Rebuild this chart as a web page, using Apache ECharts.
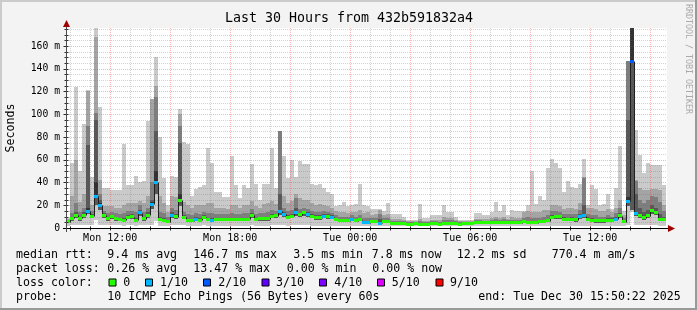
<!DOCTYPE html>
<html><head><meta charset="utf-8">
<script src="https://cdn.jsdelivr.net/npm/echarts@6/dist/echarts.min.js"></script>
<style>html,body{margin:0;padding:0;background:#f3f3f3}#c{width:697px;height:310px}</style>
</head><body><div id="c"></div><script>
// ---- data (ms), one value per 12-minute RRD step, first step starts Mon 09:48 ----
const median = [5.6,8.5,11.4,8.5,11.4,14.9,10.5,28.1,20,11.4,
 8.5,9.7,8.5,7.9,7,9.4,10,7,13.2,8.2,
 11.4,20.8,40,7.6,7,5.6,11.4,10,24.6,9.4,
 6.4,6.4,7.9,7,9.4,7.6,7,7.6,7.6,7.6,
 7.9,7.9,7.6,7.6,7.9,7.9,11.4,7.6,8.2,8.2,
 8.2,10.5,10.8,14.7,12,9.4,10.3,13.2,11.7,13.2,
 12,10.5,9,9,10.5,10,9.4,7.6,6.2,6.2,
 6.2,7.3,6.2,7.3,4.7,4.4,5.3,5.3,4.1,5.9,
 5.6,4.3,4.3,4.3,4.3,3.5,3.5,4.3,3.5,3.5,
 3.5,4.3,4.3,3.5,4.3,4.3,4.3,4.3,3.5,4.3,
 4.3,4.3,4.8,4.8,4.8,4.8,5,5,4.8,4.8,
 5,5.2,5.2,4.5,5.6,5,5,4.7,5.9,5.9,
 6.4,9.4,9.7,9.7,7.9,7.6,7.9,7.3,10.3,10.8,
 7.9,6.7,6.2,6.2,6.2,6.7,6.7,7.9,10.8,5.6,
 23.5,146.7,12.6,11.4,9.1,10.8,15,13.2,7.9,7.8];
// lost pings out of 10 per step
const lossTenths = [0,0,0,0,0,1,0,1,1,0, 0,0,0,0,0,0,0,0,1,0, 0,1,1,0,0,0,1,0,0,0,
 0,0,1,0,0,0,1,0,0,0, 0,0,0,0,0,0,0,0,0,0, 0,0,0,1,1,0,0,1,0,0,
 1,0,0,0,1,0,1,0,0,0, 0,1,0,0,1,1,0,0,1,0, 0,0,0,0,0,0,0,0,0,0,
 0,0,0,0,0,0,0,0,0,0, 0,0,0,0,0,0,0,0,0,0, 0,0,0,0,0,0,0,0,0,0,
 0,0,0,0,0,0,0,0,1,1, 0,0,0,0,0,0,0,1,0,0, 1,2,1,0,0,0,0,0,0,0];
const ping1 = [2,2.5,3,2.5,3,3,3,7,3,3, 2.5,2.5,2.5,2.5,2,2.5,2.5,2,3,2.5,
 3,3,6,2,2,1.5,3,2.5,3,2.5, 2,2,2,2,2.5,2,2,2,2,2,
 2,2,2,2,2,2,2.5,2,2,2, 2,2.5,2.5,3,2.5,2,2.5,2.5,2.5,2.5,
 2.5,2,2,2,2,2,2,2,2,2, 2,2,2,2,1.5,1.5,1.5,1.5,1.5,1.5,
 1.5,1.5,1.5,1.5,1.5,1.5,1.5,1.5,1.5,1.5, 1.5,1.5,1.5,1.5,1.5,1.5,1.5,1.5,1.5,1.5,
 1.5,1.5,1.5,1.5,1.5,1.5,1.5,1.5,1.5,1.5, 1.5,1.5,1.5,1.5,1.5,1.5,1.5,1.5,1.5,1.5,
 2,2,2,2,2,2,2,2,2,2, 2,2,2,2,2,2,2,2,2,2,
 3,14,3,3,2.5,3,3,3,2,2];
const ping3 = [4,6.5,9,6.5,9,12.5,8.5,20,16,9,
 6.5,7.5,6.5,6,5.5,7.5,8,5.5,10.5,6.5,
 9,17,30,6,5.5,4.5,9,8,19,7.5,
 5,5,6,5.5,7.5,6,5.5,6,6,6,
 6,6,6,6,6,6,9,6,6.5,6.5,
 6.5,8.5,8.5,11.5,9.5,7.5,8.5,10.5,9.5,10.5,
 9.5,8.5,7,7,8.5,8,7.5,6,5,5,
 5,5.8,5,5.8,3.7,3.5,4.2,4.2,3.2,4.6,
 4.4,3.3,3.3,3.3,3.3,2.8,2.8,3.3,2.8,2.8,
 2.8,3.3,3.3,2.8,3.3,3.3,3.3,3.3,2.8,3.3,
 3.3,3.3,3.7,3.7,3.7,3.7,3.9,3.9,3.7,3.7,
 3.9,4.1,4.1,3.5,4.4,3.9,3.9,3.7,4.6,4.6,
 5,7.5,7.8,7.8,6.2,6,6.2,5.7,8.3,8.8,
 6.2,5.2,4.8,4.8,4.8,5.2,5.2,6.2,8.8,4.3,
 19,16,10.2,9.2,7.2,8.8,12.5,11,6.2,6];
const ping6 = [6,9.5,12.5,9.5,12.5,18,11.5,40,22,12.5,
 9.5,10.5,9.5,9,8,10.5,11,8,14.5,9,
 12.5,23,50,8.5,8,6.5,12.5,11,30,10.5,
 7.5,7.5,9,8,10.5,8.5,8,8.5,8.5,8.5,
 9,9,8.5,8.5,9,9,12.5,8.5,9,9,
 9,11.5,12,16,13,10.5,11.5,15,12.5,14,
 13,11.5,10,10,11.5,11,10.5,8.5,7,7,
 7,8,7,8,5.5,5,6,6,5,6.5,
 6.5,4.8,4.8,4.8,4.8,4,4,4.8,4,4,
 4,4.8,4.8,4,4.8,4.8,4.8,4.8,4,4.8,
 4.8,4.8,5.3,5.3,5.3,5.3,5.5,5.5,5.3,5.3,
 5.5,5.8,5.8,5,6.2,5.5,5.5,5.2,6.5,6.5,
 7,10.5,11,11,9,8.5,9,8.5,11.5,12.5,
 9,7.5,7,7,7,7.5,7.5,9,12,6.5,
 27,180,14,12.5,10,12,16.5,14.5,9,9];
const ping7 = [6.5,10,14,10,14,73,12,95,25,13,
 10,11,10,9,9,11,12,9,16,10,
 14,25,85,10,9,7,14,12,75,11,
 8,8,10,9,11,9,9,9,9,9,
 9,9,9,9,9,9,13,9,10,10,
 10,12,12,30,14,11,12,18,13,14,
 14,12,11,11,12,12,11,9,8,8,
 8,9,8,9,6.5,6,7,7,8,7,
 7,5,5,5,5,4.2,4.2,5,4.2,4.2,
 4.2,5,5,4.2,5,5,5,5,4.2,5,
 5,5,5.5,5.5,5.5,5.5,6,6,5.5,5.5,
 6,6,6,5.5,7,6.5,6.5,6,7,7,
 8,11,11,11,9.5,9,9.5,9,12,20,
 9.5,8.5,8,8,8,8.5,8.5,10,13,7,
 95,180,30,18,14,16,20,18,12,10];
const ping8 = [7,13,22,14,18,90,15,101,30,15,
 13,14,13,12,13,15,15,14,20,14,
 18,40,115,14,13,10,18,16,90,14,
 12,11,13,12,14,13,13,12,12,12,
 12,13,12,12,13,13,17,12,13,13,
 14,16,15,85,18,15,16,26,17,18,
 17,15,14,14,15,14,13,11,10,10,
 10,11,10,11,9,9,9,9,12,9,
 9,6,6,6,6,5,5,5,6,5,
 5,6,6,5,7,7,7,6,5,5,
 5,5,7,7,6,6,7,8,7,8,
 7,7,7,7,9,10,9,9,9,10,
 11,15,15,14,12,12,12,12,16,44,
 12,11,11,10,10,11,10,13,18,9,
 147,180,41,25,22,25,28,27,23,15];
const ping9 = [8,28,60,23,30,120,20,168,42,19,
 19,19,18,18,20,22,22,22,24,22,
 28,113,125,28,22,14,28,27,100,23,
 20,18,20,20,20,22,22,18,18,18,
 17,20,20,18,20,20,24,19,18,21,
 22,24,21,85,28,22,24,30,26,25,
 25,22,20,21,20,19,18,15,14,14,
 13,14,14,16,13,14,11,12,16,11,
 12,8,8,8,7,6,6,6,8,6,
 6,7,7,7,10,9,9,7,6,6,
 6,6,8,8,8,8,9,10,9,10,
 8,10,9,9,14,15,14,14,14,16,
 16,20,20,19,17,18,18,17,22,45,
 18,18,17,15,15,17,14,18,25,11,
 147,180,42,35,33,33,34,34,33,20];
const ping10 = [9,57,124,50,91,121,45,176,106,35,
 35,33,33,33,74,38,38,46,40,41,
 94,113,150,80,44,20,46,45,105,76,
 74,28,34,36,38,70,57,32,32,27,
 27,63,38,26,38,35,56,39,25,39,
 39,70,35,85,63,44,60,45,59,56,
 56,39,38,39,35,32,30,19,20,23,
 19,20,21,39,20,19,17,17,17,15,
 22,12,12,12,10,7,7,7,21,8.5,
 8.5,11,11,11,20,14,14,10,7,7,
 7,7,13,13,11,11,14,23,15,20,
 11,16,15,15,15,20,50,21,28,25,
 53,61,57,53,32,41,36,35,39,61,
 20,38,34,20,21,30,17,35,72,15,
 147,180,86,64,48,57,55,55,55,38];

// time axis in hours counted from Mon 00:00
const firstBarHour = 9.8;          // Mon 09:48
const barHours = 0.2;              // 12 min
const xMin = 9 + 50/60 + 22/3600;  // Mon 09:50:22
const xMax = xMin + 30;
const yMax = 175.8;
const xLabelHours = [12, 18, 24, 30, 36];
const xLabelText = ['Mon 12:00', 'Mon 18:00', 'Tue 00:00', 'Tue 06:00', 'Tue 12:00'];
const lossLevels = [0, 1, 2, 3, 4, 5, 9];
const lossNames = ['0', '1/10', '2/10', '3/10', '4/10', '5/10', '9/10'];
const lossColors = ['#26ff00', '#00b8ff', '#0059ff', '#5e00ff', '#7e00ff', '#dd00ff', '#ff0000'];
const smokeColors = ['#cacaca', '#a4a4a4', '#7e7e7e', '#585858', '#323232'];

const MONO = '"DejaVu Sans Mono", monospace';
const seriesData = median.map((m, k) => [firstBarHour + k * barHours, m, k]);

function lossColor(n) {
  let c = lossColors[0];
  for (let i = 0; i < lossLevels.length; i++) if (n >= lossLevels[i]) c = lossColors[i];
  return c;
}

function renderSmoke(params, api) {
  const k = api.value(2);
  const t = api.value(0);
  const xa = Math.round(api.coord([t, 0])[0]);
  const xb = Math.round(api.coord([t + barHours, 0])[0]);
  const Y = v => Math.round(api.coord([t, v])[1]);
  const w = xb - xa;
  const rect = (lo, hi, color) => ({ type: 'rect', shape: { x: xa, y: Y(hi), width: w, height: Y(lo) - Y(hi) }, style: { fill: color } });
  return { type: 'group', children: [
    rect(ping1[k], ping10[k], smokeColors[0]),
    rect(ping3[k], ping9[k], smokeColors[1]),
    rect(ping3[k], ping8[k], smokeColors[2]),
    rect(ping3[k], ping7[k], smokeColors[3]),
    rect(median[k], ping6[k], smokeColors[4])
  ] };
}

function renderMedianLine(params, api) {
  const k = api.value(2);
  const t = api.value(0);
  const xa = Math.round(api.coord([t, 0])[0]);
  const xb = Math.round(api.coord([t + barHours, 0])[0]);
  const y0 = Math.round(api.coord([t, median[k]])[1]) + 0.5;
  const ch = [{ type: 'line', shape: { x1: xa, y1: y0, x2: xb, y2: y0 }, style: { stroke: '#202020', lineWidth: 1 } }];
  if (k + 1 < median.length) {
    const y1 = Math.round(api.coord([t, median[k + 1]])[1]) + 0.5;
    ch.push({ type: 'line', shape: { x1: xb + 0.5, y1: y0, x2: xb + 0.5, y2: y1 }, style: { stroke: '#202020', lineWidth: 1 } });
  }
  return { type: 'group', children: ch };
}

function renderBand(params, api) {
  const k = api.value(2);
  const t = api.value(0);
  const xa = Math.round(api.coord([t, 0])[0]);
  const xb = Math.round(api.coord([t + barHours, 0])[0]);
  const yc = api.coord([t, median[k]])[1];
  return { type: 'rect', shape: { x: xa, y: Math.round(yc - 1.5), width: xb - xa, height: 3 }, style: { fill: lossColor(lossTenths[k]) } };
}

function renderGrid(params, api) {
  if (params.dataIndex !== 0) return null;
  const cs = params.coordSys;
  const ch = [];
  const GRID = 'rgba(110,110,110,0.3)', MGRID = 'rgba(240,60,60,0.38)';
  for (let v = 5; v < yMax; v += 5) {
    const y = Math.round(api.coord([xMin, v])[1]) + 0.5;
    ch.push({ type: 'line', shape: { x1: cs.x, y1: y, x2: cs.x + cs.width, y2: y }, style: { stroke: v % 20 === 0 ? MGRID : GRID, lineWidth: 1, lineDash: [1, 1] } });
  }
  for (let h = Math.ceil(xMin); h < xMax; h++) {
    const x = Math.round(api.coord([h, 0])[0]) + 0.5;
    ch.push({ type: 'line', shape: { x1: x, y1: cs.y, x2: x, y2: cs.y + cs.height }, style: { stroke: h % 3 === 0 ? MGRID : GRID, lineWidth: 1, lineDash: [1, 1] } });
  }
  return { type: 'group', children: ch };
}

function renderAxes(params, api) {
  if (params.dataIndex !== 0) return null;
  const cs = params.coordSys;
  const ch = [];
  const yb = cs.y + cs.height + 0.5;
  const xl = cs.x - 0.5;
  // x axis ticks and labels
  for (let h = Math.ceil(xMin); h < xMax; h++) {
    const x = Math.round(api.coord([h, 0])[0]) + 0.5;
    ch.push({ type: 'line', shape: { x1: x, y1: yb - 2, x2: x, y2: yb + 2 }, style: { stroke: '#2c2c2c', lineWidth: 1 } });
  }
  xLabelHours.forEach((h, i) => {
    const x = api.coord([h, 0])[0];
    ch.push({ type: 'text', x: x, y: cs.y + cs.height + 10, style: { text: xLabelText[i], font: '10px ' + MONO, fill: '#000', align: 'center', verticalAlign: 'middle' } });
  });
  // y axis ticks
  for (let v = 0; v < yMax; v += 5) {
    const y = Math.round(api.coord([xMin, v])[1]) + 0.5;
    const len = v % 20 === 0 ? 3 : 2;
    ch.push({ type: 'line', shape: { x1: xl - len, y1: y, x2: xl + 2, y2: y }, style: { stroke: '#2c2c2c', lineWidth: 1 } });
  }
  // axis lines with arrows
  ch.push({ type: 'line', shape: { x1: cs.x - 4, y1: yb, x2: cs.x + cs.width + 2, y2: yb }, style: { stroke: '#000', lineWidth: 1 } });
  ch.push({ type: 'line', shape: { x1: xl, y1: cs.y + cs.height + 4, x2: xl, y2: cs.y - 2 }, style: { stroke: '#4a4a4a', lineWidth: 1 } });
  const ax = cs.x + cs.width + 1, ay = cs.y + cs.height + 0.5;
  ch.push({ type: 'polygon', shape: { points: [[ax, ay - 3.5], [ax + 7, ay], [ax, ay + 3.5]] }, style: { fill: '#a00000' } });
  ch.push({ type: 'polygon', shape: { points: [[xl - 3.5, cs.y - 1], [xl, cs.y - 8], [xl + 3.5, cs.y - 1]] }, style: { fill: '#a00000' } });
  return { type: 'group', children: ch };
}

const legendY = [254.5, 268.5, 282.5, 296.5];
const legendRows = [
  [[16, 'median rtt:'], [107.3, '9.4 ms avg'], [193.3, '146.7 ms max'], [293.3, '3.5 ms min'], [371.7, '7.8 ms now'], [456.7, '12.2 ms sd'], [551.7, '770.4 m am/s']],
  [[16, 'packet loss:'], [107.3, '0.26 % avg'], [193.3, '13.47 % max'], [286.7, '0.00 % min'], [372.3, '0.00 % now']],
  [[16, 'loss color:']],
  [[16, 'probe:'], [107.3, '10 ICMP Echo Pings (56 Bytes) every 60s'], [478.3, 'end: Tue Dec 30 15:50:22 2025']]
];
const boxX = [109, 145.5, 203.5, 262, 319.5, 377.5, 436];
const boxTextX = [123.3, 160, 218.3, 276, 334.3, 391.7, 450];

const graphics = [
  { type: 'rect', shape: { x: 0, y: 0, width: 697, height: 2 }, style: { fill: '#cbcbcb' }, z: 100 },
  { type: 'rect', shape: { x: 0, y: 0, width: 2, height: 310 }, style: { fill: '#cbcbcb' }, z: 100 },
  { type: 'rect', shape: { x: 0, y: 308, width: 697, height: 2 }, style: { fill: '#999999' }, z: 100 },
  { type: 'rect', shape: { x: 695, y: 0, width: 2, height: 310 }, style: { fill: '#999999' }, z: 100 },
  { type: 'text', x: 349, y: 18.5, style: { text: 'Last 30 Hours from 432b591832a4', font: '13.3px ' + MONO, fill: '#000', align: 'center', verticalAlign: 'middle' } },
  { type: 'text', x: 11, y: 128, rotation: Math.PI / 2, style: { text: 'Seconds', font: '11.6px ' + MONO, fill: '#000', align: 'center', verticalAlign: 'middle' } },
  { type: 'text', x: 688, y: 59, rotation: -Math.PI / 2, style: { text: 'RRDTOOL / TOBI OETIKER', font: '8.3px ' + MONO, fill: '#aaaaaa', align: 'center', verticalAlign: 'middle' } }
];
legendRows.forEach((row, r) => row.forEach(([x, s]) => graphics.push({ type: 'text', x: x, y: legendY[r], style: { text: s, font: '11.6px ' + MONO, fill: '#000', verticalAlign: 'middle' } })));
lossNames.forEach((n, i) => {
  graphics.push({ type: 'rect', shape: { x: boxX[i], y: 279, width: 7, height: 7 }, style: { fill: lossColors[i], stroke: '#000', lineWidth: 1 } });
  graphics.push({ type: 'text', x: boxTextX[i], y: legendY[2], style: { text: n, font: '11.6px ' + MONO, fill: '#000', verticalAlign: 'middle' } });
});

const chart = echarts.init(document.getElementById('c'), null, { renderer: 'canvas' });
chart.setOption({
  animation: false,
  backgroundColor: '#f3f3f3',
  grid: { left: 67, top: 28, width: 600, height: 200, show: true, backgroundColor: '#ffffff', borderWidth: 0 },
  xAxis: { type: 'value', min: xMin, max: xMax, show: false },
  yAxis: {
    type: 'value', min: 0, max: yMax, interval: 20,
    axisLine: { show: false }, axisTick: { show: false }, splitLine: { show: false },
    axisLabel: { margin: 7, color: '#000', fontFamily: MONO, fontSize: 9.75,
      formatter: v => v === 0 ? '0' : (Math.abs(v % 20) < 1e-9 ? v + ' m' : '') }
  },
  series: [
    { type: 'custom', name: 'smoke', data: seriesData, encode: { x: 0, y: 1 }, renderItem: renderSmoke, clip: true, z: 1, silent: true },
    { type: 'custom', name: 'grid', data: seriesData, encode: { x: 0, y: 1 }, renderItem: renderGrid, clip: true, z: 2, silent: true },
    { type: 'custom', name: 'median', data: seriesData, encode: { x: 0, y: 1 }, renderItem: renderMedianLine, clip: true, z: 3, silent: true },
    { type: 'custom', name: 'loss', data: seriesData, encode: { x: 0, y: 1 }, renderItem: renderBand, clip: true, z: 4, silent: true },
    { type: 'custom', name: 'axes', data: seriesData, encode: { x: 0, y: 1 }, renderItem: renderAxes, clip: false, z: 5, silent: true }
  ],
  graphic: graphics
});
</script></body></html>
